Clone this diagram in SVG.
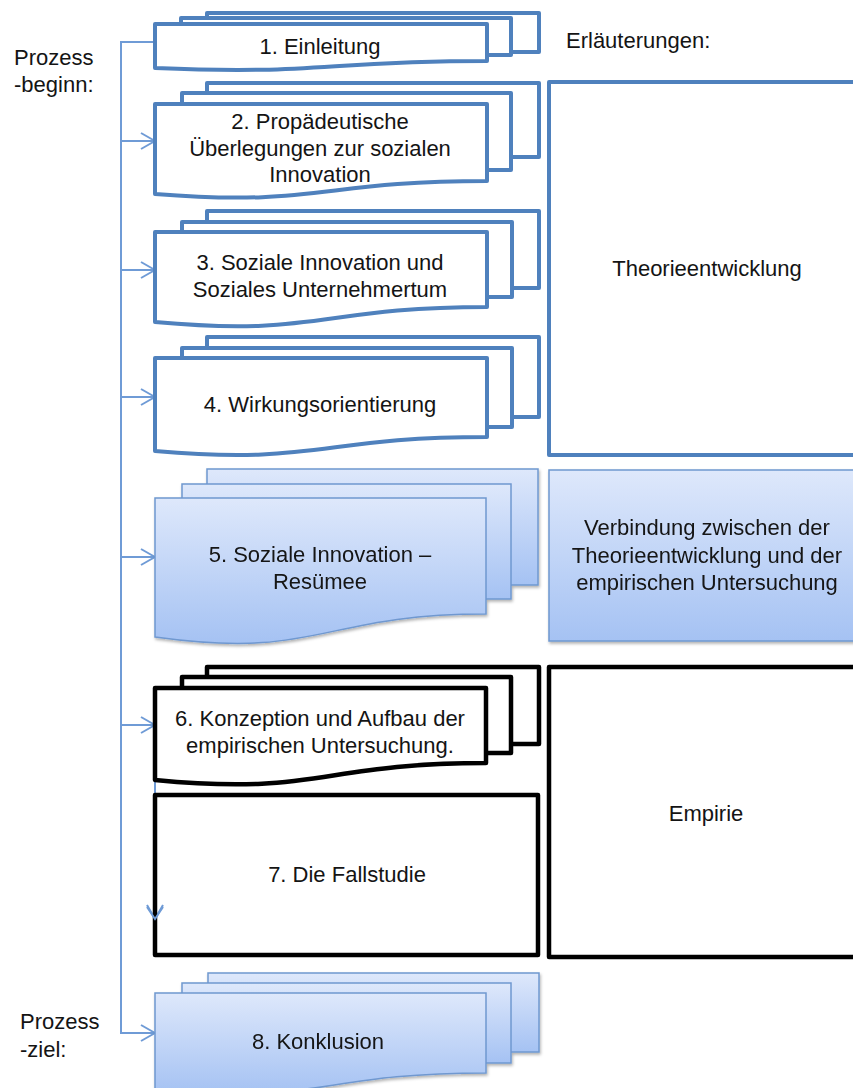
<svg xmlns="http://www.w3.org/2000/svg" width="853" height="1088" viewBox="0 0 853 1088">
  <defs>
    <linearGradient id="blueFill" x1="0" y1="0" x2="0" y2="1">
      <stop offset="0" stop-color="#dee8fb"/>
      <stop offset="1" stop-color="#a5c2f3"/>
    </linearGradient>
    <filter id="shadow" x="-5%" y="-5%" width="115%" height="120%">
      <feDropShadow dx="1" dy="2" stdDeviation="1.5" flood-color="#000" flood-opacity="0.3"/>
    </filter>
    <marker id="chevron" viewBox="0 0 16 18" refX="15" refY="9" markerWidth="16" markerHeight="18" markerUnits="userSpaceOnUse" orient="auto">
      <path d="M1,1 L15,9 L1,17" fill="none" stroke="#6f9bd6" stroke-width="2"/>
    </marker>
  </defs>
  <style>
    text { font-family: "Liberation Sans", Arial, sans-serif; font-size: 22px; fill: #141414; }
    .c { text-anchor: middle; }
    .pageB { fill: #ffffff; stroke: #4f81bd; stroke-width: 4; stroke-linejoin: round; }
    .pageK { fill: #ffffff; stroke: #000000; stroke-width: 4.5; stroke-linejoin: round; }
    .pageL { fill: url(#blueFill); stroke: #6f98d0; stroke-width: 1.5; }
    .flow { fill: none; stroke: #6f9bd6; stroke-width: 2; }
  </style>

  <rect width="853" height="1088" fill="#ffffff"/>

  <!-- side labels -->
  <g id="labels">
    <text x="14" y="65">Prozess</text>
    <text x="14" y="92">-beginn:</text>
    <text x="566" y="48">Erläuterungen:</text>
    <text x="20" y="1029">Prozess</text>
    <text x="20" y="1057">-ziel:</text>
  </g>

  <!-- process line with branches -->
  <g id="connectors">
    <path class="flow" d="M155,42 H121 V1033 H155" marker-end="url(#chevron)"/>
    <path class="flow" d="M121,141 H155" marker-end="url(#chevron)"/>
    <path class="flow" d="M121,270 H155" marker-end="url(#chevron)"/>
    <path class="flow" d="M121,397 H155" marker-end="url(#chevron)"/>
    <path class="flow" d="M121,557 H155" marker-end="url(#chevron)"/>
    <path class="flow" d="M121,725 H155" marker-end="url(#chevron)"/>
    <path class="flow" d="M155,725 V919" marker-end="url(#chevron)"/>
  </g>

  <!-- 1 -->
  <g id="node1">
    <rect class="pageB" x="207" y="13" width="332" height="39"/>
    <rect class="pageB" x="181" y="18" width="330" height="37"/>
    <path class="pageB" d="M155,24 H487 V61 C320,61 320,75 155,68 Z"/>
    <text class="c" x="320" y="54">1. Einleitung</text>
  </g>

  <!-- 2 -->
  <g id="node2">
    <rect class="pageB" x="207" y="83" width="332" height="74"/>
    <rect class="pageB" x="182" y="93" width="329" height="77"/>
    <path class="pageB" d="M155,104 H487 V181 C320,181 320,207 155,194 Z"/>
    <text class="c" x="320" y="129">2. Propädeutische</text>
    <text class="c" x="320" y="156">Überlegungen zur sozialen</text>
    <text class="c" x="320" y="182">Innovation</text>
  </g>

  <!-- 3 -->
  <g id="node3">
    <rect class="pageB" x="207" y="211" width="332" height="77"/>
    <rect class="pageB" x="182" y="222" width="330" height="75"/>
    <path class="pageB" d="M155,232 H487 V307 C320,307 320,337 155,322 Z"/>
    <text class="c" x="320" y="270">3. Soziale Innovation und</text>
    <text class="c" x="320" y="297">Soziales Unternehmertum</text>
  </g>

  <!-- 4 -->
  <g id="node4">
    <rect class="pageB" x="207" y="337" width="332" height="80"/>
    <rect class="pageB" x="182" y="348" width="330" height="79"/>
    <path class="pageB" d="M155,358 H487 V437 C320,437 320,465 155,451 Z"/>
    <text class="c" x="320" y="412">4. Wirkungsorientierung</text>
  </g>

  <!-- 5 -->
  <g id="node5" filter="url(#shadow)">
    <rect class="pageL" x="207" y="469" width="331" height="116"/>
    <rect class="pageL" x="182" y="484" width="329" height="115"/>
    <path class="pageL" d="M155,498 H486 V614 C320,614 320,660 155,637 Z"/>
    <text class="c" x="320" y="562">5. Soziale Innovation –</text>
    <text class="c" x="320" y="589">Resümee</text>
  </g>

  <!-- 6 -->
  <g id="node6">
    <rect class="pageK" x="207" y="667" width="332" height="77"/>
    <rect class="pageK" x="182" y="677" width="329" height="76"/>
    <path class="pageK" d="M155,688 H486 V763 C320,763 320,796 155,780 Z"/>
    <text class="c" x="320" y="726">6. Konzeption und Aufbau der</text>
    <text class="c" x="320" y="753">empirischen Untersuchung.</text>
  </g>

  <!-- 7 -->
  <g id="node7">
    <rect class="pageK" x="155" y="795" width="383" height="160" fill="none" style="fill:none"/>
    <text class="c" x="347" y="882">7. Die Fallstudie</text>
  </g>
  <path d="M147,907 L155,919 L163,907" fill="none" stroke="#6f9bd6" stroke-width="2"/>

  <!-- 8 -->
  <g id="node8" filter="url(#shadow)">
    <rect class="pageL" x="208" y="973" width="331" height="79"/>
    <rect class="pageL" x="182" y="983" width="329" height="80"/>
    <path class="pageL" d="M155,993 H486 V1073 C320,1073 320,1105 155,1090 Z"/>
    <text class="c" x="318" y="1049">8. Konklusion</text>
  </g>

  <!-- explanation column -->
  <g id="theorie">
    <rect class="pageB" x="549" y="82" width="320" height="373"/>
    <text class="c" x="707" y="276">Theorieentwicklung</text>
  </g>
  <g id="verbindung" filter="url(#shadow)">
    <rect class="pageL" x="549" y="470" width="320" height="171"/>
    <text class="c" x="707" y="535">Verbindung zwischen der</text>
    <text class="c" x="707" y="563">Theorieentwicklung und der</text>
    <text class="c" x="707" y="590">empirischen Untersuchung</text>
  </g>
  <g id="empirie">
    <rect class="pageK" x="549" y="667" width="320" height="290"/>
    <text class="c" x="706" y="821">Empirie</text>
  </g>
</svg>
